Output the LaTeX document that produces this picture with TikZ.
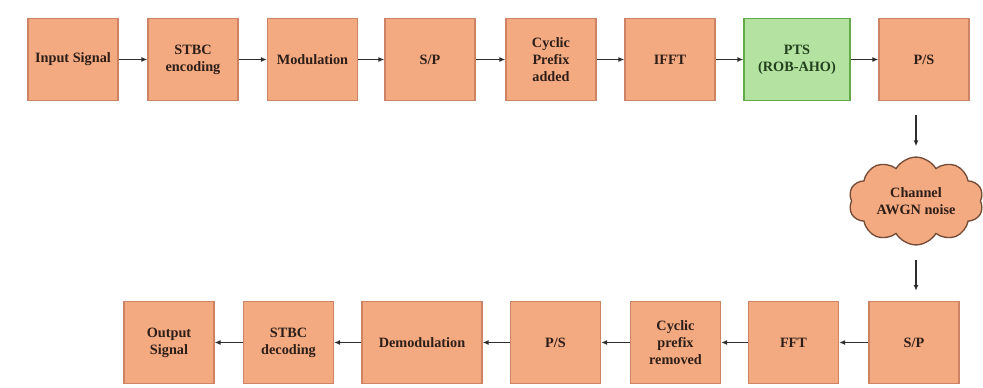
\documentclass[tikz,border=0pt]{standalone}
\usepackage{fontspec}
\setmainfont{Liberation Serif}
\usetikzlibrary{shapes.symbols,arrows.meta}
\definecolor{boxfill}{RGB}{244,170,128}
\definecolor{boxline}{RGB}{204,132,100}
\definecolor{ptsfill}{RGB}{180,226,160}
\definecolor{ptsline}{RGB}{98,170,74}
\definecolor{ptstxt}{RGB}{35,65,30}
\definecolor{cloudline}{RGB}{115,75,55}
\definecolor{txt}{RGB}{45,30,25}
\definecolor{wire}{RGB}{45,45,45}
\begin{document}
\begin{tikzpicture}[x=0.75pt,y=-0.75pt,
    blk/.style={draw=boxline,fill=boxfill,line width=0.8pt,minimum width=67.5pt,
      minimum height=61.5pt,align=center,text=txt,inner sep=2pt,
      font=\fontsize{10.7}{12.8}\selectfont\bfseries},
    ptsblk/.style={blk,draw=ptsline,fill=ptsfill,text=ptstxt,minimum width=79.5pt},
    cloudblk/.style={blk,draw=cloudline,line width=1pt,cloud,cloud puffs=10,
      cloud puff arc=120,aspect=1.7,minimum width=101pt,minimum height=61pt},
    link/.style={draw=wire,line width=0.9pt,-{Latex[length=4.5pt,width=3.6pt]}}]
  \useasboundingbox (0,0) rectangle (983,387);
  \draw
    (73,59.5) node[blk] (in){Input Signal}
    (193,59.5) node[blk] (stbc){STBC\\encoding}
    (312.5,59.5) node[blk] (mod){Modulation}
    (430,59.5) node[blk] (sp){S/P}
    (551,59.5) node[blk] (cp){Cyclic\\Prefix\\added}
    (670,59.5) node[blk] (ifft){IFFT}
    (797,59.5) node[ptsblk] (pts){PTS\\(ROB-AHO)}
    (924,59.5) node[blk] (ps){P/S}
    (916,201) node[cloudblk] (chan){Channel\\AWGN noise}
    (914,342.5) node[blk] (sprx){S/P}
    (793.5,342.5) node[blk] (fft){FFT}
    (675.5,342.5) node[blk] (cprx){Cyclic\\prefix\\removed}
    (555.5,342.5) node[blk] (psrx){P/S}
    (422,342.5) node[blk,minimum width=90pt] (demod){Demodulation}
    (288.5,342.5) node[blk] (stbcrx){STBC\\decoding}
    (169,342.5) node[blk] (out){Output\\Signal};
  \begin{scope}[link]
    \draw (in) to (stbc);
    \draw (stbc) to (mod);
    \draw (mod) to (sp);
    \draw (sp) to (cp);
    \draw (cp) to (ifft);
    \draw (ifft) to (pts);
    \draw (pts) to (ps);
    \draw[shorten <=10.5pt,shorten >=7.5pt] (ps.south -| chan.north) to (chan.north);
    \draw[shorten <=11pt,shorten >=7.5pt] (chan.south) to (chan.south |- sprx.north);
    \draw (sprx) to (fft);
    \draw (fft) to (cprx);
    \draw (cprx) to (psrx);
    \draw (psrx) to (demod);
    \draw (demod) to (stbcrx);
    \draw (stbcrx) to (out);
  \end{scope}
\end{tikzpicture}
\end{document}
